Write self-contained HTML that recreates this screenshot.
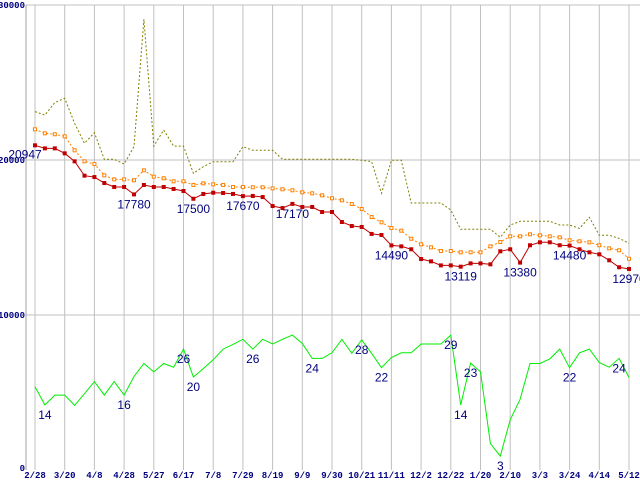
<!DOCTYPE html>
<html><head><meta charset="utf-8">
<style>
html,body{margin:0;padding:0;background:#fff;}
svg{display:block;font-family:"Liberation Sans",sans-serif;}
.tick{font-family:"Liberation Mono",monospace;font-size:9px;font-weight:bold;fill:#000080;}
.lbl{font-size:12px;fill:#000080;}
</style></head>
<body>
<svg id="chart" width="640" height="480" viewBox="0 0 640 480"></svg>
<script>
const xLabels=["2/28","3/20","4/8","4/28","5/27","6/17","7/8","7/29","8/19","9/9","9/30","10/21","11/11","12/2","12/22","1/20","2/10","3/3","3/24","4/14","5/12"];
const yTicks=[0,10000,20000,30000];
const closeVals=[20947,20750,20750,20430,19915,18990,18900,18515,18260,18260,17780,18390,18260,18260,18130,18000,17500,17810,17890,17870,17810,17670,17680,17610,17030,16900,17170,16970,16970,16645,16645,16000,15740,15680,15230,15160,14490,14430,14240,13610,13460,13200,13200,13119,13330,13330,13270,14110,14240,13380,14500,14690,14690,14500,14480,14240,14045,13915,13530,13080,12970];
const avgVals=[21980,21720,21660,21530,20625,19915,19740,19010,18750,18750,18690,19335,18925,18820,18625,18625,18390,18495,18430,18390,18260,18260,18240,18240,18170,18110,18045,17915,17850,17720,17530,17400,17160,16840,16320,15980,15610,15440,14920,14560,14365,14130,14130,14045,14045,14045,14430,14710,15075,15075,15205,15140,15075,15010,14820,14755,14690,14500,14300,14175,13630];
const highVals=[23120,22900,23700,23980,22370,21080,21760,20045,20045,19740,20860,29075,20900,21935,20900,20900,19140,19570,19890,19890,19890,20860,20625,20625,20625,20045,20045,20045,20045,20045,20045,20045,20045,19980,19900,17850,19980,19980,17225,17225,17225,17225,16775,15530,15530,15530,15530,15010,15805,16045,16045,16045,16045,15805,15805,15590,16300,15140,15140,14950,14625];
const greenVals=[17.9,14,16.1,16.1,13.9,16.4,19,16.1,19,16.1,20.1,22.9,21.1,22.9,22.1,26,20,21.8,23.7,26,27,28.1,26,28.1,27.1,28.1,29,27.2,24,24,25.2,28.1,25.1,28,25.1,22,24.2,25.2,25.2,27.1,27.1,27.1,29,14,23,21.1,5.7,3,10.8,15.2,22.9,22.9,23.9,26,22,25.2,26,23.1,22.1,24,19.9];
const redLabelIdx=[0,10,16,21,26,36,43,49,54,60];
const greenLabelIdx=[1,9,15,16,22,28,33,35,42,43,44,47,54,59];
const greenScale=300;

const NS="http://www.w3.org/2000/svg";
const svg=document.getElementById('chart');
const L=26,T=5,B=470,X0=35,X1=629,YMAX=30000;
const n=closeVals.length;
const xOf=i=>X0+(X1-X0)*i/(n-1);
const yOf=v=>B-(B-T)*v/YMAX;
function mk(tag,attrs,parent){const e=document.createElementNS(NS,tag);for(const k in attrs)e.setAttribute(k,attrs[k]);(parent||svg).appendChild(e);return e;}

const grid=mk('g',{});


xLabels.forEach((t,k)=>{
  const x=X0+(X1-X0)*k/(xLabels.length-1);
  const ln=mk('line',{x1:x,x2:x,y1:T,y2:B,stroke:'#c0c0c0','stroke-width':1},grid);
  
  
  const tx=mk('text',{x:x,y:478,'text-anchor':'middle',class:'tick'});
  tx.textContent=t;
  
  
});
yTicks.forEach(v=>{
  const y=yOf(v);
  if(v>0){const ln=mk('line',{x1:L,x2:640,y1:y,y2:y,stroke:'#c0c0c0','stroke-width':1},grid);
  
  }
  const tx=mk('text',{x:L-1,y:v===0?y+1:y+3,'text-anchor':'end',class:'tick'});
  tx.textContent=String(v);
  
  
});
const ax=mk('line',{x1:L,x2:L,y1:T,y2:B,stroke:'#a0a0a0','stroke-width':1});



function pts(vals,f){return vals.map((v,i)=>xOf(i).toFixed(1)+','+f(v).toFixed(1)).join(' ');}
const hi=mk('polyline',{points:pts(highVals,yOf),fill:'none',stroke:'#808000','stroke-width':1,'stroke-dasharray':'2,2'});


const gr=mk('polyline',{points:pts(greenVals,v=>yOf(v*greenScale)),fill:'none',stroke:'#00ee00','stroke-width':1});


const av=mk('polyline',{points:pts(avgVals,yOf),fill:'none',stroke:'#ff8000','stroke-width':1,'stroke-dasharray':'2,2'});


avgVals.forEach((v,i)=>{
  const r=mk('rect',{x:xOf(i)-1.5,y:yOf(v)-1.5,width:3,height:3,fill:'#fff',stroke:'#ff8000','stroke-width':1});
  
  
});
const cl=mk('polyline',{points:pts(closeVals,yOf),fill:'none',stroke:'#c00000','stroke-width':1});


closeVals.forEach((v,i)=>{
  const r=mk('rect',{x:xOf(i)-2,y:yOf(v)-2,width:4,height:4,fill:'#c00000'});
  
  
});
redLabelIdx.forEach(i=>{
  const first=i===0;
  const t=mk('text',{x:first?xOf(i)-10:xOf(i),y:yOf(closeVals[i])+(first?13:14),'text-anchor':'middle',class:'lbl'});
  t.textContent=String(closeVals[i]);
  
  
});
greenLabelIdx.forEach(i=>{
  const t=mk('text',{x:xOf(i),y:yOf(greenVals[i]*greenScale)+14,'text-anchor':'middle',class:'lbl'});
  t.textContent=String(Math.round(greenVals[i]));
  
  
});
</script>
</body></html>
